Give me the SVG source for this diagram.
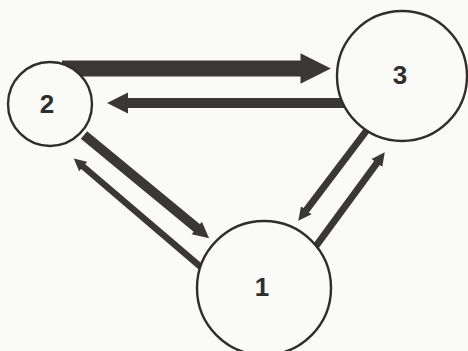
<svg xmlns="http://www.w3.org/2000/svg" width="468" height="351" viewBox="0 0 468 351">
  <style>
    .bg { fill: #fafaf8; }
    .node circle { fill: #fafaf8; stroke: #2f2e2c; stroke-width: 2.4; }
    .node text { font-family: "Liberation Sans", Arial, sans-serif; font-weight: bold; font-size: 26px; fill: #2f2e2c; text-anchor: middle; dominant-baseline: central; }
    .conn line { stroke: #3a3835; stroke-linecap: butt; fill: none; }
    .head { fill: #3a3835; }
  </style>
  <defs>
    <marker id="mBig" viewBox="0 0 10 10" refX="0.5" refY="5" markerUnits="strokeWidth" markerWidth="1.9" markerHeight="2.5" orient="auto">
      <path class="head" d="M0,0 L10,5 L0,10 z"/>
    </marker>
    <marker id="mMid" viewBox="0 0 10 10" refX="0.5" refY="5" markerUnits="strokeWidth" markerWidth="2.1" markerHeight="3" orient="auto">
      <path class="head" d="M0,0 L10,5 L0,10 z"/>
    </marker>
    <marker id="mDiag" viewBox="0 0 10 10" refX="0.5" refY="5" markerUnits="strokeWidth" markerWidth="1.6" markerHeight="2" orient="auto">
      <path class="head" d="M0,0 L10,5 L0,10 z"/>
    </marker>
    <marker id="mThin" viewBox="0 0 10 10" refX="0.5" refY="5" markerUnits="strokeWidth" markerWidth="1.9" markerHeight="2.2" orient="auto">
      <path class="head" d="M0,0 L10,5 L0,10 z"/>
    </marker>
  </defs>
  <rect class="bg" x="0" y="0" width="468" height="351"/>
  <g id="connectors" class="conn">
    <line id="e2-3" x1="62" y1="68.5" x2="302" y2="68.5" stroke-width="16" marker-end="url(#mBig)"/>
    <line id="e3-2" x1="350" y1="103" x2="127" y2="103" stroke-width="10" marker-end="url(#mMid)"/>
    <line id="e2-1" x1="84" y1="135" x2="197.4" y2="228.5" stroke-width="10" marker-end="url(#mDiag)"/>
    <line id="e1-2" x1="202" y1="268" x2="82.7" y2="166.1" stroke-width="6.5" marker-end="url(#mThin)"/>
    <line id="e3-1" x1="367" y1="130" x2="305.9" y2="210.7" stroke-width="7" marker-end="url(#mThin)"/>
    <line id="e1-3" x1="316" y1="246" x2="377.3" y2="162.5" stroke-width="7" marker-end="url(#mThin)"/>
  </g>
  <g id="node2" class="node">
    <circle cx="50" cy="104" r="42"/>
    <text x="47" y="104">2</text>
  </g>
  <g id="node3" class="node">
    <circle cx="402" cy="76" r="65"/>
    <text x="400" y="75">3</text>
  </g>
  <g id="node1" class="node">
    <circle cx="264" cy="288" r="67"/>
    <text x="262" y="287">1</text>
  </g>
</svg>
